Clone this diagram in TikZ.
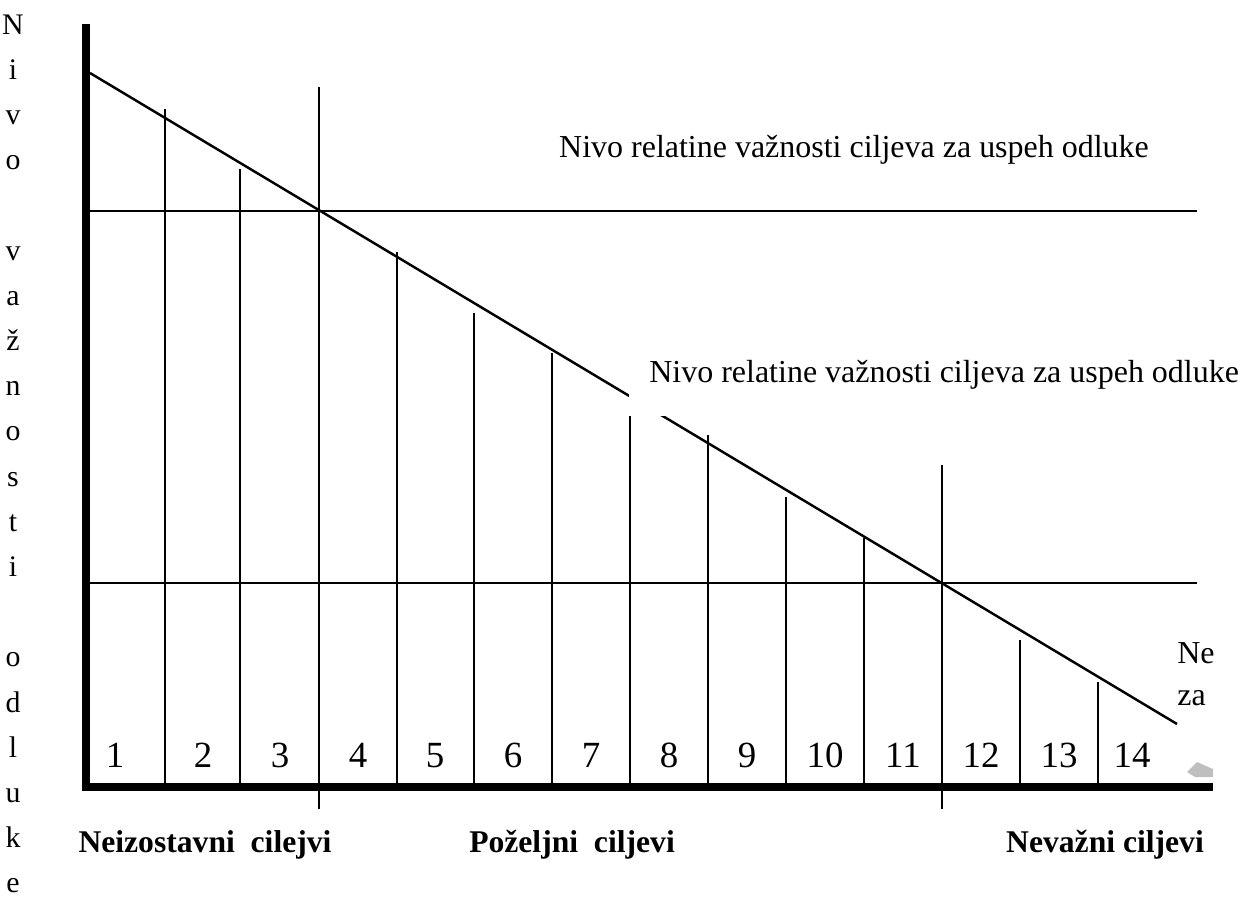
\documentclass[tikz,border=0pt]{standalone}
\usepackage{fontspec}
\setmainfont{Liberation Serif}
\usetikzlibrary{positioning}

\begin{document}
\begin{tikzpicture}[x=0.02cm, y=-0.02cm,
  axis/.style={line width=5pt},
  rule/.style={line width=1.1pt},
  slope/.style={line width=1.4pt},
  txt/.style={font=\fontsize{18.2}{22}\selectfont, inner sep=0pt},
  group/.style={font=\fontsize{18}{22}\selectfont\bfseries, inner sep=0pt, anchor=base},
  num/.style={font=\fontsize{21}{25}\selectfont, inner sep=0pt, anchor=base}]

\useasboundingbox (0,0) rectangle (1244,913);

% vertical caption
\foreach \ch [count=\k from 0] in {N,i,v,o,{},v,a,ž,n,o,s,t,i,{},o,d,l,u,k,e}
  \node[font=\fontsize{17}{20}\selectfont, anchor=base, inner sep=0pt] (ch\k) at (13,{34+45.2*\k}) {\ch};

% level lines
\draw[rule] (90,211) -- (1197,211);
\draw[rule] (90,583) -- (1197,583);

% goal bars
\foreach \x/\top in {165/109, 240/169, 397/252, 474/313, 552/353, 630/395, 708/435, 786/497, 864/538, 1020/640, 1098/682}
  \draw[rule] (\x,\top) -- (\x,787);
\draw[rule] (319,87) -- (319,809);
\draw[rule] (942,465) -- (942,809);

% importance line
\draw[slope] (90,73) -- (1177,724);

% axes
\draw[axis] (86,24) -- (86,787) -- (1213,787);
\fill[gray!50] (1187,772) -- (1197,762) -- (1213,769) -- (1213,777) -- (1195,777) -- cycle;

% goal numbers
\foreach \x [count=\n] in {115,203,280,358,435,513,591,669,747,825,903,981,1059,1132}
  \node[num] (n\n) at (\x,767) {\n};

% level labels
\node[txt, anchor=base] (lvl1) at (854,157) {Nivo relatine važnosti ciljeva za uspeh odluke};
\node[txt, anchor=base west, fill=white, inner xsep=0.4cm, inner ysep=0.54cm] (lvl2) at (629,382) {Nivo relatine važnosti ciljeva za uspeh odluke};
\node[txt, anchor=base west] (ne) at (1177,663) {Ne};
\node[txt, anchor=base west] (za) at (1177,705) {za};

% goal groups
\node[group] (must) at (205,852) {Neizostavni\ \ cilejvi};
\node[group] (want) at (572,852) {Poželjni\ \ ciljevi};
\node[group] (skip) at (1105,852) {Nevažni ciljevi};

\end{tikzpicture}
\end{document}
